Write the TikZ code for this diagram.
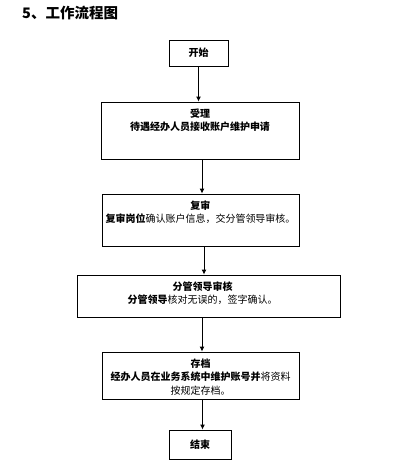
\documentclass[tikz,border=0pt]{standalone}
\usepackage{fontspec}
\newfontfamily\cjk{Noto Sans CJK SC}
\usetikzlibrary{positioning,arrows.meta}
\tikzset{
	boite/.style={draw,line width=0.9pt,inner sep=0pt},
	texte/.style={inner sep=0pt,align=center,font=\cjk\bfseries\fontsize{10}{13}\selectfont},
	fleche/.style={line width=0.9pt,-{Latex[length=5pt,width=5pt]}}
}
\begin{document}
\begin{tikzpicture}[x=1pt,y=-1pt]
	\useasboundingbox (0,0) rectangle (419,469);
	%TITRE
	\node[anchor=west,inner sep=0pt,font=\cjk\bfseries\fontsize{14.5}{16}\selectfont] (titre) at (22,13) {5、工作流程图};
	%BOITES
	\node[boite,texte,minimum width=59,minimum height=26] (debut) at (198.5,53) {开始};
	\node[boite,minimum width=198,minimum height=57] (accept) at (200,130.5) {};
	\node[boite,minimum width=197,minimum height=52] (revue) at (200.5,220) {};
	\node[boite,minimum width=263,minimum height=42] (avis) at (208.5,296) {};
	\node[boite,minimum width=197,minimum height=47] (archive) at (200.5,375.5) {};
	\node[boite,texte,minimum width=62,minimum height=29] (fin) at (200,444.5) {结束};
	%TEXTES
	\node[texte,below=7pt of accept.north] (accepttxt) {受理\\待遇经办人员接收账户维护申请};
	\node[texte,below=7pt of revue.north] (revuetxt) {复审\\复审岗位{\mdseries 确认账户信息，交分管领导审核。}};
	\node[texte,below=7pt of avis.north,xshift=-6pt] (avistxt) {分管领导审核\\分管领导{\mdseries 核对无误的，签字确认。}};
	\node[texte,below=7pt of archive.north] (archivetxt) {存档\\经办人员在业务系统中维护账号并{\mdseries 将资料}\\[1pt]{\mdseries 按规定存档。}};
	%FLECHES
	\draw[fleche] (debut.south) -- (debut.south |- accept.north);
	\draw[fleche] ([xshift=2pt]accept.south) -- ([xshift=2pt]accept.south |- revue.north);
	\draw[fleche] ([xshift=3.5pt]revue.south) -- ([xshift=3.5pt]revue.south |- avis.north);
	\draw[fleche] ([xshift=1.5pt]archive.north |- avis.south) -- ([xshift=1.5pt]archive.north);
	\draw[fleche] ([xshift=2pt]archive.south) -- ([xshift=2pt]archive.south |- fin.north);
\end{tikzpicture}
\end{document}
